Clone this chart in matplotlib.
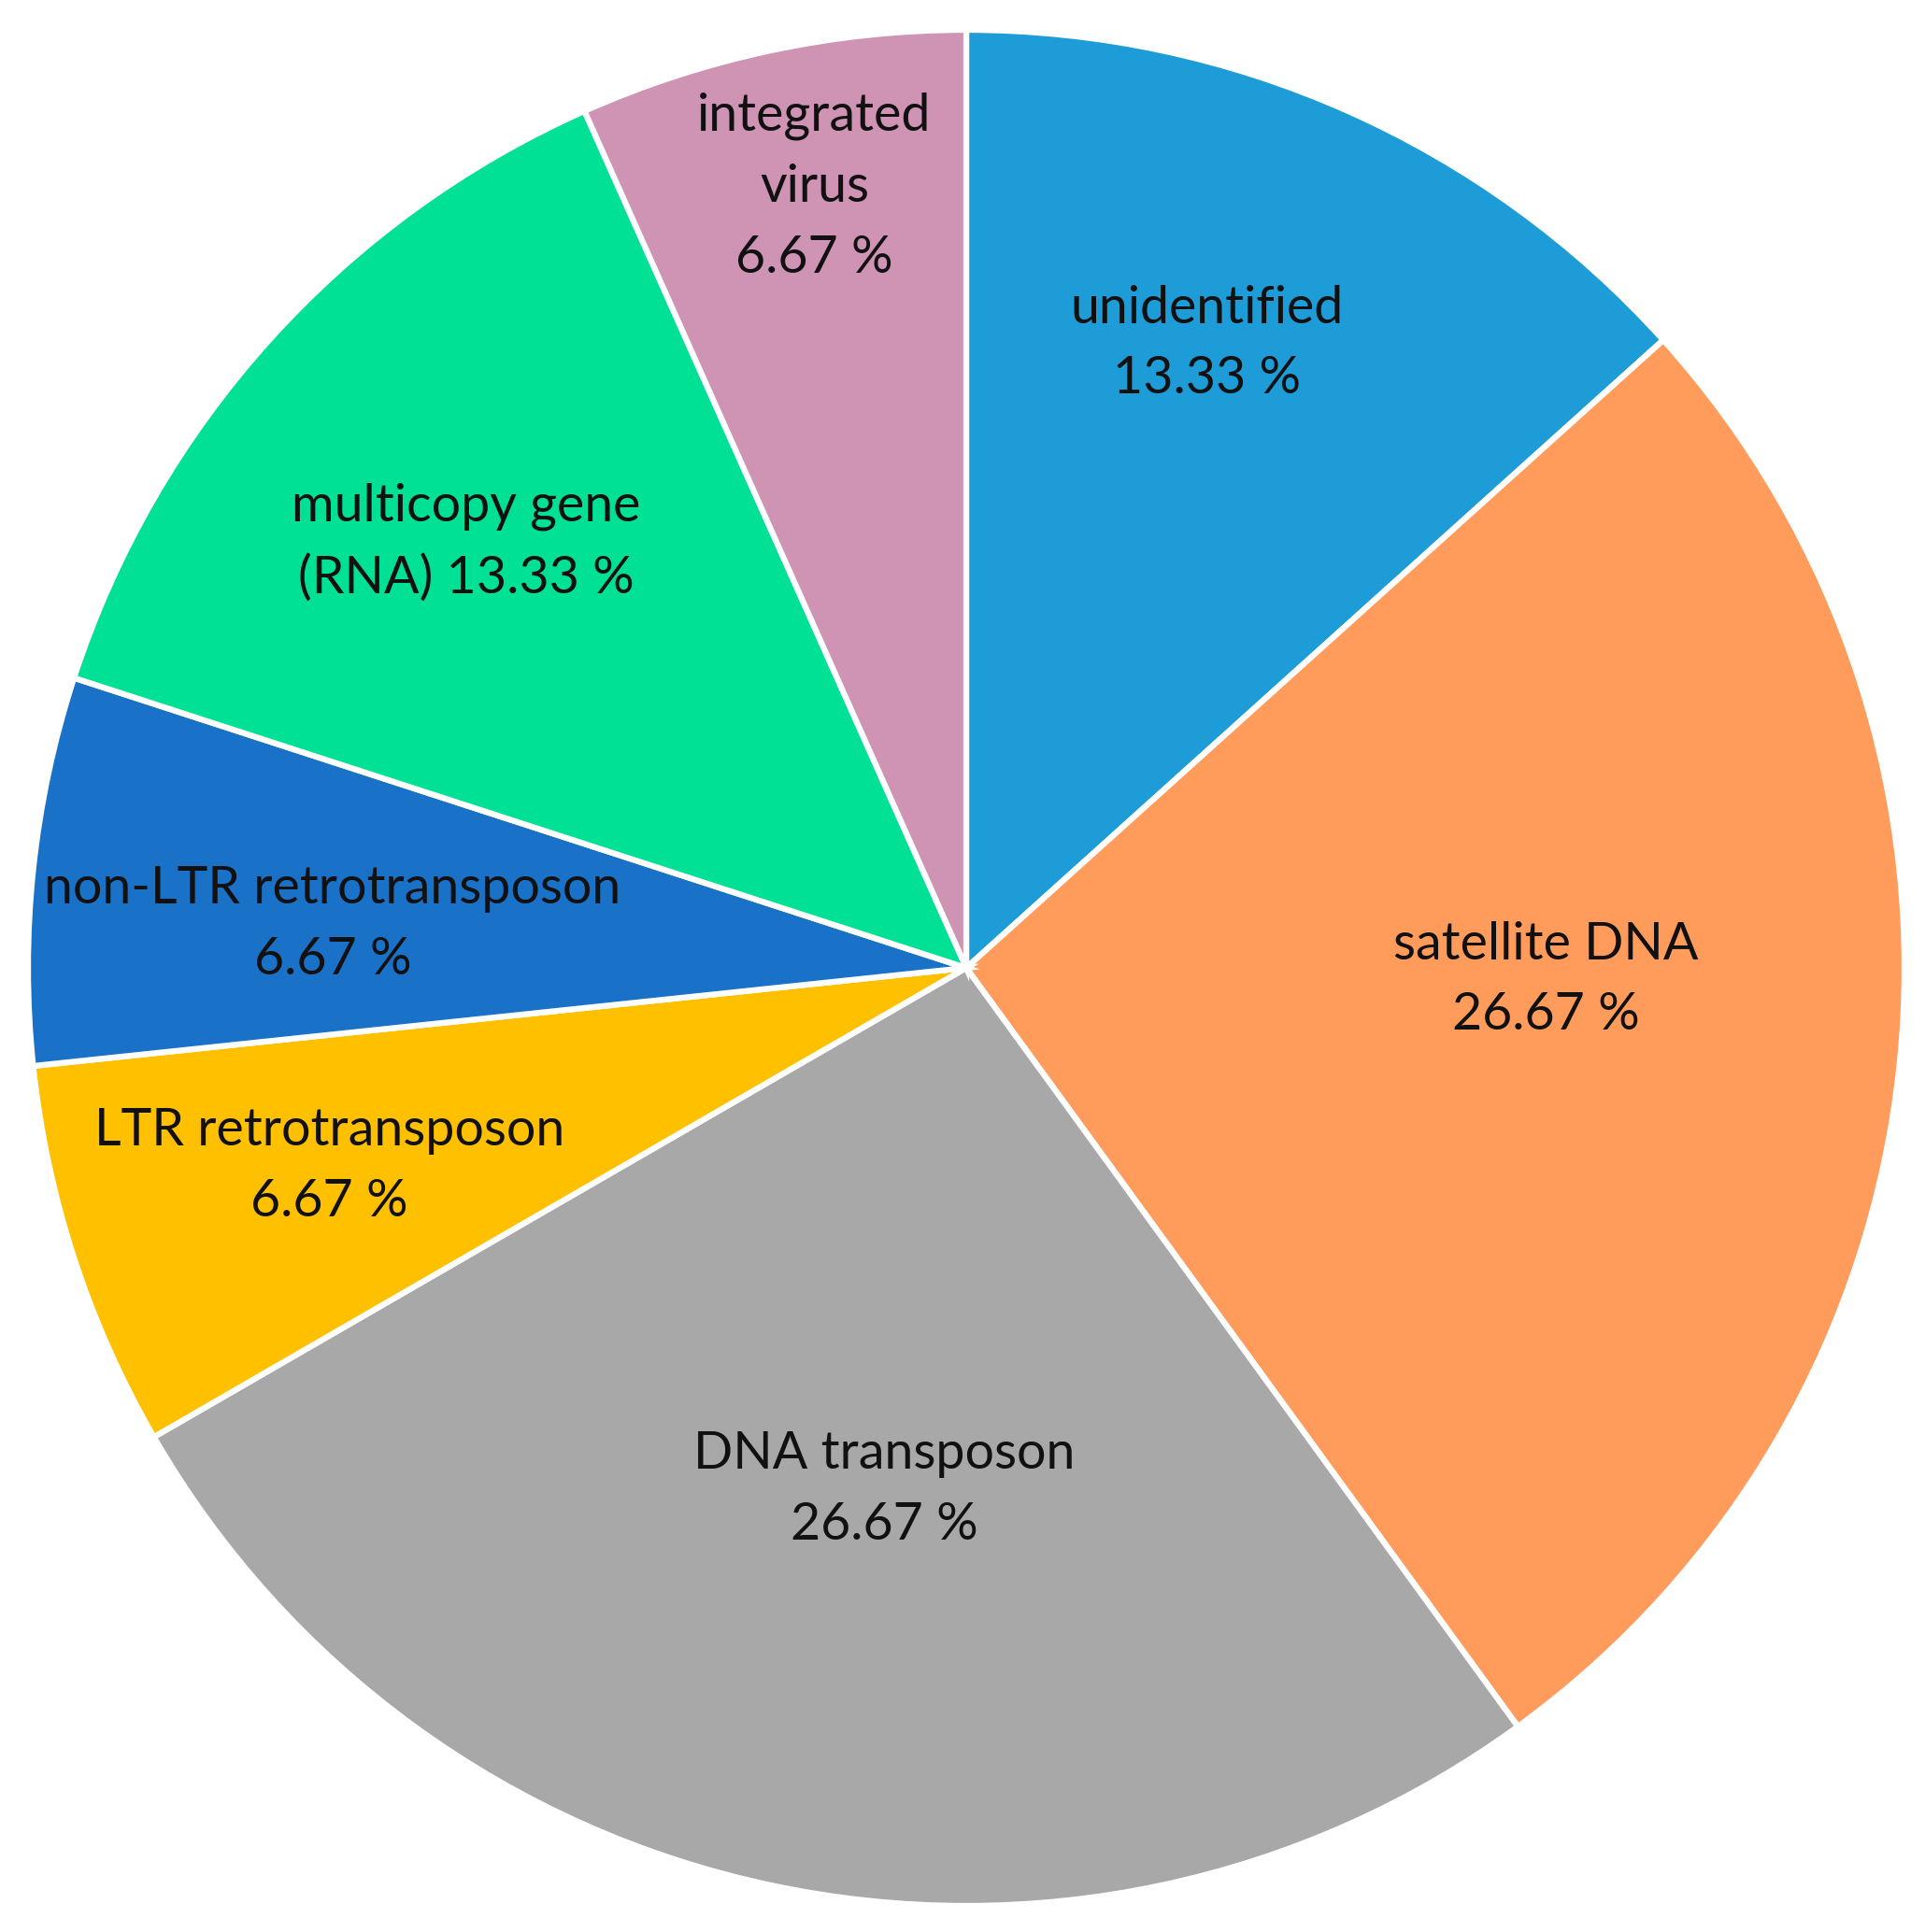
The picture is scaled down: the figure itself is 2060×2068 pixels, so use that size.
import numpy as np
import matplotlib
matplotlib.use("Agg")
import matplotlib.pyplot as plt

categories = ["unidentified", "satellite DNA", "DNA transposon", "LTR retrotransposon",
              "non-LTR retrotransposon", "multicopy gene", "integrated virus"]
percent = [13.33, 26.67, 26.67, 6.67, 6.67, 13.33, 6.67]
label_text = ["unidentified\n13.33 %", "satellite DNA\n26.67 %", "DNA transposon\n26.67 %",
              "LTR retrotransposon\n6.67 %", "non-LTR retrotransposon\n6.67 %",
              "multicopy gene\n(RNA) 13.33 %", "integrated\nvirus\n6.67 %"]
colors = ["#1E9CD8", "#FF9B5B", "#A8A8A8", "#FFC000", "#1A72C8", "#00E195", "#CF93B4"]
# label placement: fraction of radius, and angular shift from wedge middle (deg)
label_radius = [0.713, 0.618, 0.563, 0.711, 0.677, 0.70, 0.848]
label_shift = [2.9, 4.8, 3.1, -0.7, 2.1, 1.6, -1.0]

W, H = 2060, 2068
cx, cy, R = 1034, 1032, 1004  # pixel centre (from bottom) and radius

fig = plt.figure(figsize=(W / 100, H / 100), dpi=100)
ax = fig.add_axes([0, 0, 1, 1])

wedges, _ = ax.pie(percent, colors=colors, startangle=90, counterclock=False,
                   wedgeprops=dict(edgecolor="white", linewidth=4.5))
ax.set_xlim(-cx / R, (W - cx) / R)
ax.set_ylim(-cy / R, (H - cy) / R)
ax.set_aspect("auto")
ax.axis("off")

for w, txt, r, s in zip(wedges, label_text, label_radius, label_shift):
    ang = np.deg2rad((w.theta1 + w.theta2) / 2 + s)
    ax.text(r * np.cos(ang), r * np.sin(ang), txt, ha="center", va="center",
            fontsize=40, family="Lato", color="#111111", linespacing=1.6)

fig.savefig("out.png", dpi=100, facecolor="white")
